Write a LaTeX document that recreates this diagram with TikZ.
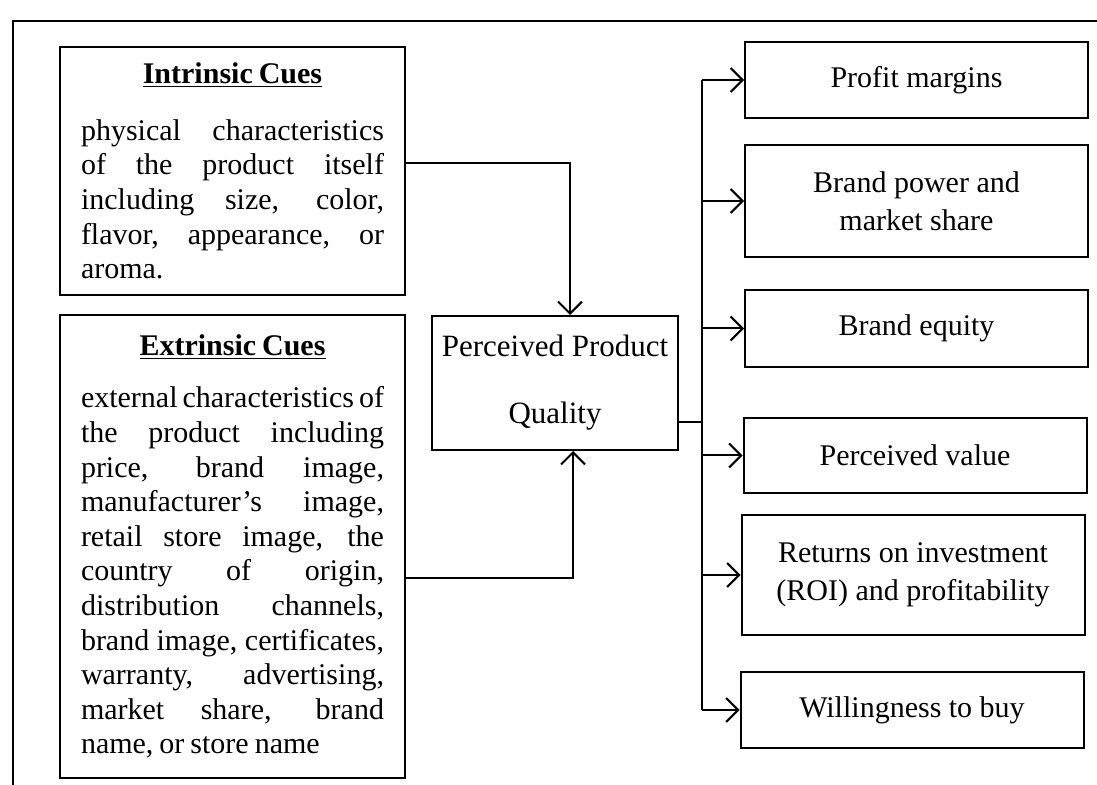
\documentclass[tikz,border=0pt]{standalone}
\usepackage{fontspec}
\setmainfont{Liberation Serif}
\usetikzlibrary{positioning,arrows.meta}

\tikzset{
  cuebox/.style={rectangle, draw, line width=1pt, text width=151.5pt, inner xsep=10.5pt, align=justify},
  outbox/.style={rectangle, draw, line width=1pt, minimum width=171.5pt, align=center},
  arr/.style={-{Straight Barb[length=6pt,width=12pt]}, line width=1pt}
}

\begin{document}
\begin{tikzpicture}[x=0.5pt, y=-0.5pt, font=\fontsize{15}{17.3}\selectfont]
  \useasboundingbox (0,0) rectangle (1097,785);
  \tolerance=10000 \hbadness=10000

  % Frame
  \draw[line width=1.3pt] (13,785) -- (13,21) -- (1097,21);

  % Cue boxes
  \node[cuebox, minimum height=124pt] (intr) at (232.5,171) {%
    \spaceskip=0.2em plus 1em minus 0.05em
    {\centering\bfseries\underline{Intrinsic Cues}\par}\vspace{11pt}
    physical characteristics\linebreak of the product itself\linebreak including size, color,\linebreak flavor, appearance, or\linebreak aroma.};
  \node[cuebox, minimum height=231.5pt] (extr) at (232.5,546.5) {%
    \spaceskip=0.2em plus 1em minus 0.05em
    {\centering\bfseries\underline{Extrinsic Cues}\par}\vspace{9pt}
    external characteristics of\linebreak the product including\linebreak price, brand image,\linebreak manufacturer’s image,\linebreak retail store image, the\linebreak country of origin,\linebreak distribution channels,\linebreak brand image, certificates,\linebreak warranty, advertising,\linebreak market share, brand\linebreak name, or store name};

  % Middle box
  \node[rectangle, draw, line width=1pt, minimum width=123pt, minimum height=67pt, align=center, font=\fontsize{15.5}{17.5}\selectfont] (ppq) at (555,383) {Perceived Product\\[16pt]Quality};

  % Outcome boxes
  \node[outbox, minimum height=38pt] (pm) at (916.5,80) {Profit margins};
  \node[outbox, minimum height=56pt] (bp) at (916.5,201) {Brand power and\\[1.5pt]market share};
  \node[outbox, minimum height=38.5pt] (be) at (916.5,328.5) {Brand equity};
  \node[outbox, minimum height=37.5pt] (pv) at (915,455.5) {Perceived value};
  \node[outbox, minimum height=60pt] (roi) at (913,575) {Returns on investment\\[2pt](ROI) and profitability};
  \node[outbox, minimum height=38pt] (wb) at (912,710) {Willingness to buy};

  % Arrows
  \coordinate (trunk) at (702,422);
  \draw[arr] ([yshift=4pt]intr.east) -| ([xshift=7.5pt]ppq.north);
  \draw[arr] ([yshift=-15.75pt]extr.east) -| ([xshift=9pt]ppq.south);
  \draw[line width=1pt] (ppq.east |- trunk) -- (trunk);
  \draw[line width=1pt] (trunk |- pm.west) -- (trunk |- wb.west);
  \foreach \b in {pm,bp,be,pv,roi,wb}
    \draw[arr] (trunk |- \b.west) -- (\b.west);
\end{tikzpicture}
\end{document}
